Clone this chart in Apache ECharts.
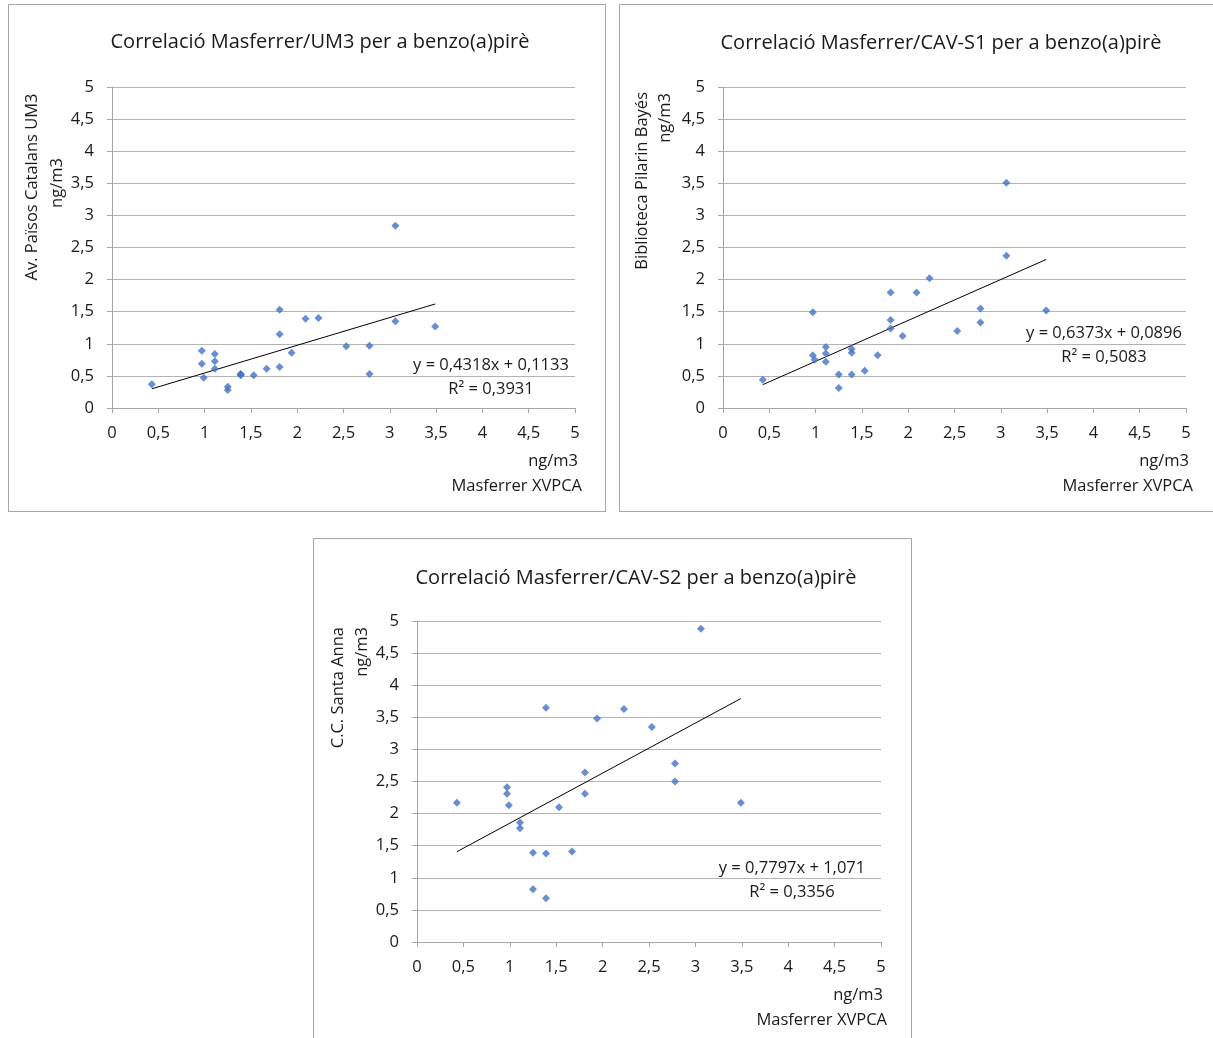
<!DOCTYPE html>
<html>
<head>
<meta charset="utf-8" />
<title>Correlació Masferrer benzo(a)pirè</title>
<script src="https://cdn.jsdelivr.net/npm/echarts@6/dist/echarts.min.js"></script>
<style>
	body { margin: 0; width: 1213px; height: 1038px; overflow: hidden; background: #fff; position: relative; }
	.panel { position: absolute; width: 598px; height: 508px; border: 1px solid #a6a6a6; box-sizing: border-box; }
</style>
</head>
<body>
<div id="c1" class="panel" style="left:8px;top:4px;"></div>
<div id="c2" class="panel" style="left:619px;top:4px;"></div>
<div id="c3" class="panel" style="left:313px;top:538px;width:599px;"></div>
<script type="text/javascript">
// Masferrer XVPCA (ng/m3), shared x for the three charts
var masferrer = [0.43, 0.97, 0.97, 0.99, 1.11, 1.11, 1.11, 1.25, 1.25, 1.39, 1.39, 1.39, 1.53,
	1.67, 1.81, 1.81, 1.81, 1.94, 2.09, 2.23, 2.53, 2.78, 2.78, 3.06, 3.06, 3.49];
// other stations (ng/m3), null = no sample
var um3 = [0.37, 0.89, 0.69, 0.47, 0.84, 0.73, 0.61, 0.33, 0.28, 0.53, 0.51, 0.52, 0.51,
	0.61, 1.53, 1.15, 0.64, 0.86, 1.39, 1.40, 0.96, 0.97, 0.53, 2.84, 1.35, 1.27];
var cavS1 = [0.44, 1.49, 0.82, 0.75, 0.95, 0.85, 0.72, 0.52, 0.31, 0.92, 0.86, 0.52, 0.58,
	0.82, 1.80, 1.37, 1.24, 1.12, 1.80, 2.02, 1.20, 1.55, 1.33, 3.51, 2.37, 1.52];
var cavS2 = [2.17, 2.41, 2.31, 2.13, 1.86, 1.77, null, 1.39, 0.82, 3.65, 1.38, 0.68, 2.10,
	1.41, 2.64, 2.31, null, 3.48, null, 3.63, 3.35, 2.78, 2.50, 4.88, null, 2.17];

// trend lines (from the chart labels)
var slopes = [0.4318, 0.6373, 0.7797];
var intercepts = [0.1133, 0.0896, 1.071];
var r2 = [0.3931, 0.5083, 0.3356];

var titles = ['Correlació Masferrer/UM3 per a benzo(a)pirè',
	'Correlació Masferrer/CAV-S1 per a benzo(a)pirè',
	'Correlació Masferrer/CAV-S2 per a benzo(a)pirè'];
var stationNames = ['Av. Països Catalans UM3', 'Biblioteca Pilarin Bayés', 'C.C. Santa Anna'];

var FONT = '"Open Sans"';
var TXT = '#1a1a1a';
var FS = 16.5;

function comma(v) { return String(v).replace('.', ','); }

// per chart layout (pixels inside each panel)
var layout = [
	{ titleX: 311, titleY: 37, nameX: [23, 48], nameY: [182, 178], nameAlign: 'center', eqX: 482, eqY: 360 },
	{ titleX: 321, titleY: 38, nameX: [22, 45], nameY: [87, 88], nameAlign: 'right', eqX: 484, eqY: 328 },
	{ titleX: 322, titleY: 39, nameX: [24, 48], nameY: [88, 88], nameAlign: 'right', eqX: 478, eqY: 329 }
];

function drawChart(id, ys, k) {
	var chart = echarts.init(document.getElementById(id));
	var pts = [];
	var xmin = Infinity, xmax = -Infinity;
	for (var i = 0; i < masferrer.length; i++) {
		if (ys[i] == null) continue;
		pts.push([masferrer[i], ys[i]]);
		xmin = Math.min(xmin, masferrer[i]);
		xmax = Math.max(xmax, masferrer[i]);
	}
	var trend = [[xmin, slopes[k] * xmin + intercepts[k]], [xmax, slopes[k] * xmax + intercepts[k]]];
	var L = layout[k];
	var nameStyle = { fontFamily: FONT, fontSize: FS, fill: TXT, textAlign: L.nameAlign, textVerticalAlign: 'middle' };

	var option = {
		animation: false,
		grid: { left: 103, right: 30, top: 82, bottom: 103 },
		xAxis: {
			type: 'value', min: 0, max: 5, interval: 0.5,
			axisLine: { show: true, lineStyle: { color: '#a6a6a6' } },
			axisTick: { show: true, length: 5, lineStyle: { color: '#a6a6a6' } },
			axisLabel: { fontFamily: FONT, fontSize: FS, color: TXT, margin: 17, formatter: comma },
			splitLine: { show: false }
		},
		yAxis: {
			type: 'value', min: 0, max: 5, interval: 0.5,
			axisLine: { show: true, lineStyle: { color: '#a6a6a6' } },
			axisTick: { show: true, length: 5, lineStyle: { color: '#a6a6a6' } },
			axisLabel: { fontFamily: FONT, fontSize: FS, color: TXT, margin: 18, formatter: comma },
			splitLine: { show: true, lineStyle: { color: '#b3b3b3' } }
		},
		graphic: [
			{ type: 'text', x: L.titleX, y: L.titleY,
				style: { text: titles[k], fontFamily: FONT, fontSize: 20, fill: TXT, textAlign: 'center', textVerticalAlign: 'middle' } },
			{ type: 'text', x: L.nameX[0], y: L.nameY[0], rotation: Math.PI / 2,
				style: Object.assign({ text: stationNames[k] }, nameStyle) },
			{ type: 'text', x: L.nameX[1], y: L.nameY[1], rotation: Math.PI / 2,
				style: Object.assign({ text: 'ng/m3' }, nameStyle) },
			{ type: 'text', x: 569, y: 456,
				style: { text: 'ng/m3', fontFamily: FONT, fontSize: FS, fill: TXT, textAlign: 'right', textVerticalAlign: 'middle' } },
			{ type: 'text', x: 573, y: 481,
				style: { text: 'Masferrer XVPCA', fontFamily: FONT, fontSize: FS, fill: TXT, textAlign: 'right', textVerticalAlign: 'middle' } },
			{ type: 'text', x: L.eqX, y: L.eqY,
				style: { text: 'y = ' + comma(slopes[k]) + 'x + ' + comma(intercepts[k]), fontFamily: FONT, fontSize: FS, fill: TXT, textAlign: 'center', textVerticalAlign: 'middle' } },
			{ type: 'text', x: L.eqX, y: L.eqY + 24,
				style: { text: 'R² = ' + comma(r2[k]), fontFamily: FONT, fontSize: FS, fill: TXT, textAlign: 'center', textVerticalAlign: 'middle' } }
		],
		series: [
			{
				type: 'line', data: trend, symbol: 'none', silent: true,
				lineStyle: { color: '#000', width: 1 }, z: 1
			},
			{
				type: 'scatter', data: pts, symbol: 'diamond', symbolSize: 8,
				itemStyle: { color: '#4472c4' }, z: 2
			}
		]
	};
	chart.setOption(option);
}

drawChart('c1', um3, 0);
drawChart('c2', cavS1, 1);
drawChart('c3', cavS2, 2);
</script>
</body>
</html>
